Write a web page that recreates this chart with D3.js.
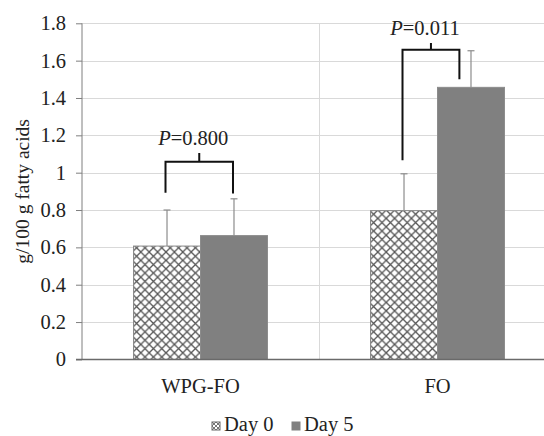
<!DOCTYPE html>
<html>
<head>
<meta charset="utf-8">
<script src="https://cdn.jsdelivr.net/npm/d3@7"></script>
<style>
  html, body { margin: 0; padding: 0; background: #fff; }
  svg { display: block; font-family: "Liberation Serif", "Times New Roman", serif; }
</style>
</head>
<body>
<svg id="chart" width="544" height="436"></svg>
<script>
// ---- data ----
const categories = ["WPG-FO", "FO"];
const seriesNames = ["Day 0", "Day 5"];
const day0Values = [0.607, 0.797];
const day5Values = [0.663, 1.457];
const day0Errors = [0.193, 0.197];
const day5Errors = [0.197, 0.196];
const yTicks = [0, 0.2, 0.4, 0.6, 0.8, 1, 1.2, 1.4, 1.6, 1.8];
const yTickLabels = ["0", "0.2", "0.4", "0.6", "0.8", "1", "1.2", "1.4", "1.6", "1.8"];
const pLabels = ["0.800", "0.011"];
// bracket: leg bottoms (value units), bar top, tick top
const bracketLeftBottom = [0.892, 1.067];
const bracketRightBottom = [0.889, 1.501];
const bracketTop = [1.058, 1.658];
const bracketTickTop = [1.105, 1.694];
const yAxisTitle = "g/100 g fatty acids";

// ---- layout ----
const svg = d3.select("#chart");
const mLeft = 82, mRight = 556, mTop = 23.3, mBottom = 359.4;
const FS = 20.5;

const y = d3.scaleLinear().domain([0, 1.8]).range([mBottom, mTop]);
const x0 = d3.scaleBand().domain(categories).range([mLeft, mRight]).paddingInner(0).paddingOuter(0);
const x1 = d3.scaleBand().domain(seriesNames).range([0, x0.bandwidth()]).paddingInner(0).paddingOuter(0.769);

// pattern
const defs = svg.append("defs");
const pat = defs.append("pattern").attr("id", "diamond").attr("patternUnits", "userSpaceOnUse")
  .attr("width", 8.4).attr("height", 8.4).attr("x", 0).attr("y", 0);
pat.append("rect").attr("width", 8.4).attr("height", 8.4).attr("fill", "#fff");
pat.append("path").attr("d", "M0,0L8.4,8.4M0,8.4L8.4,0")
  .attr("stroke", "#555").attr("stroke-width", 1.3).attr("fill", "none");
const pat2 = defs.append("pattern").attr("id", "diamondSmall").attr("patternUnits", "userSpaceOnUse")
  .attr("width", 4).attr("height", 4);
pat2.append("rect").attr("width", 4).attr("height", 4).attr("fill", "#fff");
pat2.append("path").attr("d", "M0,0L4,4M0,4L4,0").attr("stroke", "#666").attr("stroke-width", 0.9);

// gridlines
svg.append("g").selectAll("line").data(yTicks.filter(d => d > 0)).join("line")
  .attr("x1", mLeft).attr("x2", 544)
  .attr("y1", d => Math.round(y(d)) + 0.5).attr("y2", d => Math.round(y(d)) + 0.5)
  .attr("stroke", "#d9d9d9").attr("stroke-width", 1);
svg.append("g").selectAll("line").data(categories.slice(1)).join("line")
  .attr("x1", d => Math.round(x0(d)) + 0.5).attr("x2", d => Math.round(x0(d)) + 0.5)
  .attr("y1", mTop).attr("y2", mBottom)
  .attr("stroke", "#d9d9d9").attr("stroke-width", 1);

// bars
const rows = categories.map((c, i) => ({
  cat: c,
  bars: [
    { s: seriesNames[0], v: day0Values[i], e: day0Errors[i] },
    { s: seriesNames[1], v: day5Values[i], e: day5Errors[i] }
  ]
}));
const g = svg.append("g").selectAll("g").data(rows).join("g")
  .attr("transform", d => `translate(${x0(d.cat)},0)`);
g.selectAll("rect").data(d => d.bars).join("rect")
  .attr("x", d => x1(d.s)).attr("width", x1.bandwidth())
  .attr("y", d => y(d.v)).attr("height", d => y(0) - y(d.v))
  .attr("fill", (d, i) => i === 0 ? "url(#diamond)" : "#808080")
  .attr("stroke", (d, i) => i === 0 ? "#8a8a8a" : "#8c8c8c").attr("stroke-width", 1);
// error bars
g.selectAll("line.err").data(d => d.bars).join("line").attr("class", "err")
  .attr("x1", d => x1(d.s) + x1.bandwidth() / 2).attr("x2", d => x1(d.s) + x1.bandwidth() / 2)
  .attr("y1", d => y(d.v)).attr("y2", d => y(d.v + d.e))
  .attr("stroke", "#8c8c8c").attr("stroke-width", 1.2);
g.selectAll("line.cap").data(d => d.bars).join("line").attr("class", "cap")
  .attr("x1", d => x1(d.s) + x1.bandwidth() / 2 - 3.5).attr("x2", d => x1(d.s) + x1.bandwidth() / 2 + 3.5)
  .attr("y1", d => y(d.v + d.e)).attr("y2", d => y(d.v + d.e))
  .attr("stroke", "#8c8c8c").attr("stroke-width", 1.2);

// axes
const yAxis = d3.axisLeft(y).tickValues(yTicks).tickFormat((d, i) => yTickLabels[i]).tickSize(6).tickPadding(10);
const ya = svg.append("g").attr("transform", `translate(${mLeft},0)`).call(yAxis);
ya.select(".domain").attr("stroke", "#7f7f7f").attr("d", `M0,${mTop}V${mBottom}`);
ya.selectAll(".tick line").attr("stroke", "#7f7f7f");
ya.selectAll("text").attr("font-size", FS).attr("fill", "#222").attr("font-family", "Liberation Serif");

svg.append("line").attr("x1", mLeft - 6).attr("x2", 544).attr("y1", mBottom).attr("y2", mBottom)
  .attr("stroke", "#6a6a6a").attr("stroke-width", 1.5);

// category labels
svg.append("g").selectAll("text").data(categories).join("text")
  .attr("x", d => x0(d) + x0.bandwidth() / 2).attr("y", 393)
  .attr("text-anchor", "middle").attr("font-size", FS).attr("fill", "#222").text(d => d);

// y title
svg.append("text").attr("transform", `translate(29,${(mTop + mBottom) / 2}) rotate(-90)`)
  .attr("text-anchor", "middle").attr("font-size", 19.5).attr("fill", "#222").text(yAxisTitle);

// brackets
const bracketData = categories.map((c, i) => {
  const lx = x0(c) + x1(seriesNames[0]) + x1.bandwidth() / 2 - 1.5;
  const rx = x0(c) + x1(seriesNames[1]) + x1.bandwidth() / 2 - (i === 0 ? 1 : 11.6);
  return { lx, rx, lb: bracketLeftBottom[i], rb: bracketRightBottom[i], t: bracketTop[i], tt: bracketTickTop[i], p: pLabels[i] };
});
const bg = svg.append("g").selectAll("g").data(bracketData).join("g");
bg.append("path")
  .attr("d", d => `M${d.lx},${y(d.lb)}V${y(d.t)}H${d.rx}V${y(d.rb)}M${(d.lx + d.rx) / 2},${y(d.t)}V${y(d.tt)}`)
  .attr("fill", "none").attr("stroke", "#111").attr("stroke-width", 2);
const pt = bg.append("text")
  .attr("x", d => (d.lx + d.rx) / 2 - 6).attr("y", d => y(d.tt) - 8.5)
  .attr("text-anchor", "middle").attr("font-size", FS).attr("fill", "#222");
pt.append("tspan").attr("font-style", "italic").text("P");
pt.append("tspan").text(d => "=" + d.p);

// legend
const legend = svg.append("g").attr("transform", "translate(212,422)");
const li = legend.selectAll("g").data(seriesNames).join("g")
  .attr("transform", (d, i) => `translate(${i * 80},0)`);
li.append("rect").attr("width", 8).attr("height", 8)
  .attr("fill", (d, i) => i === 0 ? "url(#diamondSmall)" : "#808080")
  .attr("stroke", (d, i) => i === 0 ? "#666" : "#808080").attr("stroke-width", 1);
li.append("text").attr("x", 12).attr("y", 9).attr("font-size", FS).attr("fill", "#222").text(d => d);
</script>
</body>
</html>
